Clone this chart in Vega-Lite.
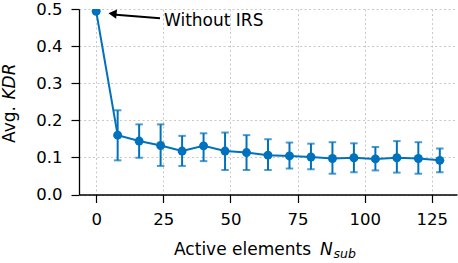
{
  "$schema": "https://vega.github.io/schema/vega-lite/v6.json",
  "width": 378,
  "height": 185.5,
  "autosize": {"type": "none"},
  "padding": {"left": 79, "top": 9, "right": 1, "bottom": 68.5},
  "background": "white",
  "config": {
    "view": {"stroke": null},
    "font": "DejaVu Sans",
    "text": {"fontWeight": "normal", "font": "DejaVu Sans"},
    "axis": {
      "domainColor": "black",
      "domainWidth": 1.3,
      "tickColor": "black",
      "tickWidth": 1.2,
      "tickSize": 8,
      "labelFont": "DejaVu Sans",
      "labelFontSize": 16.5,
      "labelColor": "black",
      "labelPadding": 9,
      "grid": true,
      "gridColor": "#c8c8c8",
      "gridDash": [2, 2.5],
      "gridWidth": 1
    }
  },
  "data": {
    "values": [
      {"n": 0, "kdr": 0.494, "lo": null, "hi": null},
      {"n": 8, "kdr": 0.160, "lo": 0.092, "hi": 0.227},
      {"n": 16, "kdr": 0.144, "lo": 0.099, "hi": 0.189},
      {"n": 24, "kdr": 0.132, "lo": 0.077, "hi": 0.189},
      {"n": 32, "kdr": 0.117, "lo": 0.077, "hi": 0.158},
      {"n": 40, "kdr": 0.131, "lo": 0.090, "hi": 0.165},
      {"n": 48, "kdr": 0.117, "lo": 0.066, "hi": 0.167},
      {"n": 56, "kdr": 0.113, "lo": 0.066, "hi": 0.160},
      {"n": 64, "kdr": 0.106, "lo": 0.066, "hi": 0.149},
      {"n": 72, "kdr": 0.104, "lo": 0.070, "hi": 0.140},
      {"n": 80, "kdr": 0.101, "lo": 0.068, "hi": 0.137},
      {"n": 88, "kdr": 0.097, "lo": 0.056, "hi": 0.141},
      {"n": 96, "kdr": 0.099, "lo": 0.060, "hi": 0.138},
      {"n": 104, "kdr": 0.096, "lo": 0.065, "hi": 0.128},
      {"n": 112, "kdr": 0.099, "lo": 0.059, "hi": 0.144},
      {"n": 120, "kdr": 0.097, "lo": 0.056, "hi": 0.141},
      {"n": 128, "kdr": 0.092, "lo": 0.060, "hi": 0.124}
    ]
  },
  "encoding": {
    "x": {
      "field": "n",
      "type": "quantitative",
      "scale": {"domain": [-6.4, 134.4], "nice": false, "zero": false},
      "axis": {"values": [0, 25, 50, 75, 100, 125], "format": "d", "title": null}
    },
    "y": {
      "field": "kdr",
      "type": "quantitative",
      "scale": {"domain": [0, 0.5], "nice": false},
      "axis": {"values": [0, 0.1, 0.2, 0.3, 0.4, 0.5], "format": ".1f", "title": null}
    }
  },
  "layer": [
    {
      "transform": [{"filter": "datum.lo != null"}],
      "mark": {
        "type": "errorbar",
        "color": "#0072BD",
        "ticks": {"size": 7.5, "thickness": 2, "color": "#0072BD"},
        "rule": {"strokeWidth": 2, "color": "#0072BD"}
      },
      "encoding": {
        "y": {"field": "lo", "type": "quantitative", "axis": {"title": null, "values": [0, 0.1, 0.2, 0.3, 0.4, 0.5], "format": ".1f"}},
        "y2": {"field": "hi"}
      }
    },
    {
      "mark": {"type": "line", "color": "#0072BD", "strokeWidth": 2, "clip": true}
    },
    {
      "mark": {"type": "point", "filled": true, "color": "#0072BD", "opacity": 1, "size": 80, "clip": true}
    },
    {
      "transform": [{"filter": "datum.n == 0"}],
      "mark": {"type": "rule", "color": "black", "strokeWidth": 2},
      "encoding": {
        "x": {"datum": 23.77, "type": "quantitative"},
        "y": {"datum": 0.4749, "type": "quantitative"},
        "x2": {"datum": 7.38},
        "y2": {"datum": 0.4844}
      }
    },
    {
      "transform": [{"filter": "datum.n == 0"}],
      "mark": {"type": "point", "shape": "triangle-left", "filled": true, "color": "black", "opacity": 1, "size": 90, "angle": 5.5},
      "encoding": {
        "x": {"datum": 6.08, "type": "quantitative"},
        "y": {"datum": 0.4873, "type": "quantitative"}
      }
    },
    {
      "transform": [{"filter": "datum.n == 0"}],
      "mark": {"type": "text", "text": "Without IRS", "align": "left", "baseline": "alphabetic", "fontSize": 17, "fontWeight": "normal", "color": "black"},
      "encoding": {
        "x": {"datum": 25.26, "type": "quantitative"},
        "y": {"datum": 0.4542, "type": "quantitative"}
      }
    },
    {
      "transform": [{"filter": "datum.n == 0"}],
      "mark": {"type": "text", "text": "Active elements", "align": "left", "baseline": "alphabetic", "fontSize": 17, "fontWeight": "normal", "color": "black"},
      "encoding": {
        "x": {"datum": 29.0, "type": "quantitative"},
        "y": {"datum": -0.1644, "type": "quantitative"}
      }
    },
    {
      "transform": [{"filter": "datum.n == 0"}],
      "mark": {"type": "text", "text": "N", "align": "left", "baseline": "alphabetic", "fontSize": 17, "fontStyle": "italic", "fontWeight": "normal", "color": "black"},
      "encoding": {
        "x": {"datum": 83.4, "type": "quantitative"},
        "y": {"datum": -0.1644, "type": "quantitative"}
      }
    },
    {
      "transform": [{"filter": "datum.n == 0"}],
      "mark": {"type": "text", "text": "sub", "align": "left", "baseline": "alphabetic", "fontSize": 12.5, "fontStyle": "italic", "fontWeight": "normal", "color": "black"},
      "encoding": {
        "x": {"datum": 88.4, "type": "quantitative"},
        "y": {"datum": -0.1712, "type": "quantitative"}
      }
    },
    {
      "transform": [{"filter": "datum.n == 0"}],
      "mark": {"type": "text", "text": "Avg.", "align": "left", "baseline": "alphabetic", "angle": 270, "fontSize": 17, "fontWeight": "normal", "color": "black"},
      "encoding": {
        "x": {"datum": -30.3, "type": "quantitative"},
        "y": {"datum": 0.1388, "type": "quantitative"}
      }
    },
    {
      "transform": [{"filter": "datum.n == 0"}],
      "mark": {"type": "text", "text": "KDR", "align": "left", "baseline": "alphabetic", "angle": 270, "fontSize": 17, "fontStyle": "italic", "fontWeight": "normal", "color": "black"},
      "encoding": {
        "x": {"datum": -30.3, "type": "quantitative"},
        "y": {"datum": 0.256, "type": "quantitative"}
      }
    }
  ]
}
